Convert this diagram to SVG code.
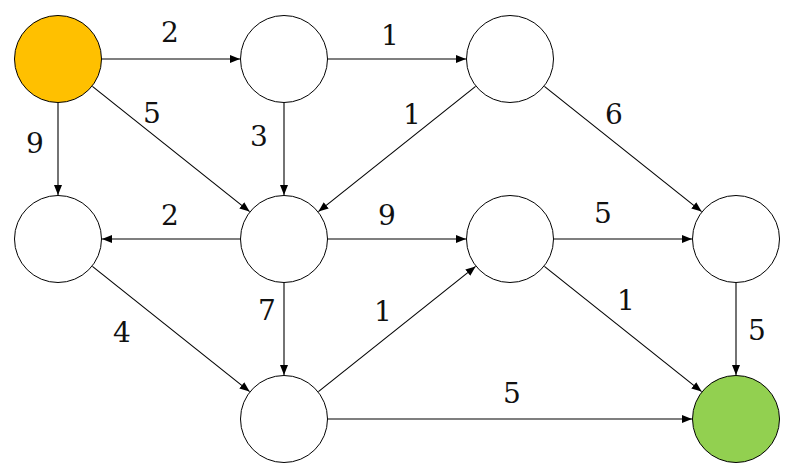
<svg xmlns="http://www.w3.org/2000/svg" width="802" height="474" viewBox="0 0 802 474">
<style>
.n{fill:#fff;stroke:#000;stroke-width:1}
.e{stroke:#000;stroke-width:1.1;fill:none;marker-end:url(#ah)}
</style>
<defs>
<marker id="ah" markerUnits="userSpaceOnUse" markerWidth="11" markerHeight="9" refX="10" refY="4" orient="auto">
<path d="M0,0 L10,4 L0,8 z" fill="#000"/>
</marker>
</defs>
<rect width="802" height="474" fill="#fff"/>
<g id="connectors">
<line class="e" x1="102" y1="59" x2="240" y2="59"/>
<line class="e" x1="328" y1="59" x2="466" y2="59"/>
<line class="e" x1="58" y1="103" x2="58" y2="195"/>
<line class="e" x1="284" y1="103" x2="284" y2="195"/>
<line class="e" x1="92.4" y1="86.4" x2="249.6" y2="211.6"/>
<line class="e" x1="475.6" y1="86.4" x2="318.4" y2="211.6"/>
<line class="e" x1="544.4" y1="86.4" x2="701.6" y2="211.6"/>
<line class="e" x1="240" y1="239" x2="102" y2="239"/>
<line class="e" x1="328" y1="239" x2="466" y2="239"/>
<line class="e" x1="554" y1="239" x2="692" y2="239"/>
<line class="e" x1="92.4" y1="266.4" x2="249.6" y2="391.6"/>
<line class="e" x1="284" y1="283" x2="284" y2="375"/>
<line class="e" x1="318.4" y1="391.6" x2="475.6" y2="266.4"/>
<line class="e" x1="544.4" y1="266.4" x2="701.6" y2="391.6"/>
<line class="e" x1="736" y1="283" x2="736" y2="375"/>
<line class="e" x1="328" y1="419" x2="692" y2="419"/>
</g>
<g id="labels" font-family="DejaVu Serif, serif" font-size="28" fill="#111" text-anchor="middle">
<text x="170" y="42">2</text>
<text x="390" y="45">1</text>
<text x="152" y="123">5</text>
<text x="35" y="153">9</text>
<text x="259" y="146">3</text>
<text x="412" y="124">1</text>
<text x="614" y="124">6</text>
<text x="170" y="225">2</text>
<text x="387" y="225">9</text>
<text x="603" y="223">5</text>
<text x="122" y="342">4</text>
<text x="267" y="320">7</text>
<text x="383" y="321">1</text>
<text x="626" y="310">1</text>
<text x="757" y="340">5</text>
<text x="512" y="403">5</text>
</g>
<g id="nA"><circle cx="58" cy="59" r="43.5" class="n" style="fill:#FFC000"/></g>
<g id="nB"><circle cx="284" cy="59" r="43.5" class="n"/></g>
<g id="nC"><circle cx="510" cy="59" r="43.5" class="n"/></g>
<g id="nD"><circle cx="58" cy="239" r="43.5" class="n"/></g>
<g id="nE"><circle cx="284" cy="239" r="43.5" class="n"/></g>
<g id="nF"><circle cx="510" cy="239" r="43.5" class="n"/></g>
<g id="nG"><circle cx="736" cy="239" r="43.5" class="n"/></g>
<g id="nH"><circle cx="284" cy="419" r="43.5" class="n"/></g>
<g id="nI"><circle cx="736" cy="419" r="43.5" class="n" style="fill:#92D050"/></g>
</svg>
